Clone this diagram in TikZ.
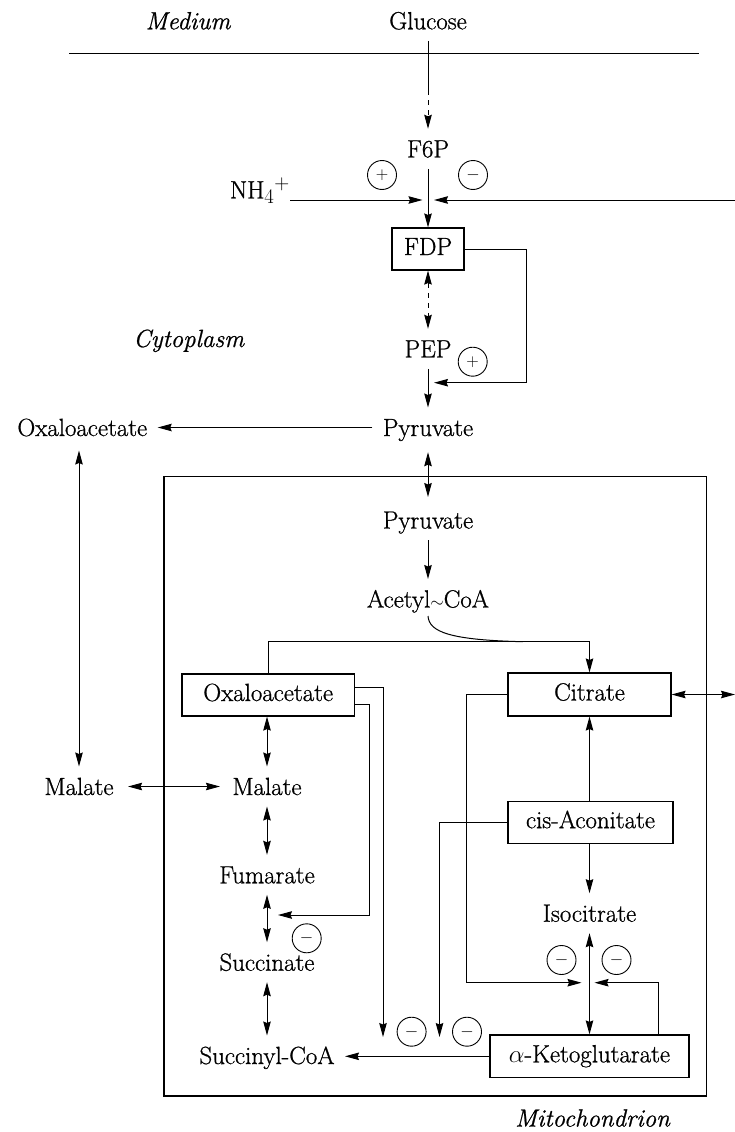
\documentclass[tikz,border=0pt]{standalone}
\usepackage{fontspec}
\setmainfont{Latin Modern Roman}[FakeBold=0.8]
\usetikzlibrary{arrows.meta,calc}
\newcommand{\lbf}{\fontsize{24.88}{30}\selectfont}
\newcommand{\sgf}{\fontsize{17.28}{18}\selectfont}
\begin{document}
\begin{tikzpicture}[x=1pt,y=-1pt,line width=1pt,
  lbl/.style={font=\lbf, inner xsep=10pt, inner ysep=11pt, text height=17pt, text depth=0pt, anchor=base},
  ital/.style={font=\lbf\itshape, inner sep=0pt, anchor=base},
  pbox/.style={draw, font=\lbf, inner sep=0pt, text height=17pt, text depth=5pt, line width=1.1pt},
  sgn/.style={draw, circle, minimum size=29pt, inner sep=0pt, font=\sgf, line width=0.9pt},
  arw/.style={-{Stealth[length=14pt,width=7.5pt,inset=1.5pt]}},
  darw/.style={{Stealth[length=14pt,width=7.5pt,inset=1.5pt]}-{Stealth[length=14pt,width=7.5pt,inset=1.5pt]}},
]
\fill[white] (0,0) rectangle (735,1132);
\useasboundingbox (0,0) rectangle (735,1132);

% membrane
\draw[line width=1.3pt] (69.3,53.3) -- (699,53.3);

% nodes
\node[ital] (medium) at (188,29.3) {Medium};
\node[lbl] (glucose) at (428,29.3) {Glucose};
\node[lbl] (f6p) at (428,157.3) {F6P};
\node[lbl, anchor=base east] (nh4) at (300.4,198.3) {NH$_4$$^+$};
\node[sgn] (p1) at (382,175) {$+$};
\node[sgn] (m1) at (473,175) {$-$};
\node[pbox, minimum width=72pt, minimum height=42pt] (fdp) at (428,249) {FDP};
\node[ital] (cyto) at (188.7,347) {Cytoplasm};
\node[lbl] (pep) at (428,357.3) {PEP};
\node[sgn] (p2) at (472.7,361.7) {$+$};
\node[lbl] (pyr) at (428,436) {Pyruvate};
\node[lbl] (oxo) at (82.3,436) {Oxaloacetate};
\node[lbl] (malo) at (79,795) {Malate};
\node[draw, line width=1.1pt, minimum width=542.5pt, minimum height=619.5pt, inner sep=0pt] (mito) at (435.25,786.25) {};
\node[lbl] (pyri) at (428,528.5) {Pyruvate};
\node[lbl] (acoa) at (428,607.5) {Acetyl{\sgf$\sim$}CoA};
\node[pbox, minimum width=172.4pt, minimum height=42pt] (oxb) at (268.2,695) {Oxaloacetate};
\node[pbox, minimum width=163pt, minimum height=43pt] (cit) at (589.5,694.5) {Citrate};
\node[lbl] (mali) at (267,795) {Malate};
\node[pbox, minimum width=165pt, minimum height=42.3pt] (cis) at (590.5,822.2) {cis-Aconitate};
\node[lbl] (fum) at (267,883.3) {Fumarate};
\node[lbl] (iso) at (589.5,921.7) {Isocitrate};
\node[lbl] (succ) at (267,970.7) {Succinate};
\node[lbl] (scoa) at (267,1064) {Succinyl-CoA};
\node[pbox, minimum width=199pt, minimum height=42.7pt] (akg) at (589.5,1056.3) {$\alpha$-Ketoglutarate};
\node[ital] (mitol) at (592.5,1126.5) {Mitochondrion};
\node[sgn] (m2) at (306.7,938.3) {$-$};
\node[sgn] (m3) at (411.6,1031.7) {$-$};
\node[sgn] (m4) at (467,1031.7) {$-$};
\node[sgn] (m5) at (561.5,960) {$-$};
\node[sgn] (m6) at (616.5,960) {$-$};

% coordinates
\coordinate (gbrk) at ($(glucose.south)!0.56!(f6p.north)$);
\coordinate (j1) at (428,200);
\coordinate (eR) at (735,200);
\coordinate (j2) at (428,382.7);
\coordinate (fbc) at (526,382.7);
\coordinate (cR) at (735,694.5);
\coordinate (acj) at (523,641.7);
\coordinate (j3) at (589.5,982.7);
\coordinate (j4) at (267,915);
\coordinate (i1) at (383,1037);
\coordinate (i2) at (439.5,1037);

% connectors
\draw (glucose.south) -- (gbrk);
\draw[arw, dash pattern=on 5pt off 5pt] (gbrk) -- (f6p.north);
\draw[arw] (f6p.south) -- (fdp.north);
\draw[arw, shorten >=5.5pt] ([shift={(-10pt,-1.7pt)}]nh4.base east) -- (j1);
\draw[arw, shorten >=6pt] (eR) -- (j1);
\draw[darw, dash pattern=on 5pt off 5pt] (fdp.south) -- (pep.north);
\draw[arw] (pep.south) -- (pyr.north);
\draw[arw, shorten >=6pt] (fdp.east) -| (fbc) -- (j2);
\draw[arw] (pyr.west) -- (oxo.east);
\draw[darw, shorten <=3pt] (malo.north |- oxo.south) -- (malo.north);
\draw[darw, shorten <=4pt, shorten >=2pt] (malo.east) -- (mali.west);
\draw[darw, shorten <=4.7pt, shorten >=3pt] (pyr.south) -- (pyri.north);
\draw[arw] (pyri.south) -- (acoa.north);
\draw ([yshift=3pt]acoa.south) .. controls (429,632) and (450,640) .. (acj);
\draw[arw] (oxb.north) |- (acj) -| (cit.north);
\draw[darw] (mali.north |- oxb.south) -- (mali.north);
\draw[darw] (mali.south) -- (fum.north);
\draw[darw] (fum.south) -- (succ.north);
\draw[darw] (succ.south) -- (scoa.north);
\draw[arw] (akg.west) -- (akg.west -| scoa.east);
\draw[arw] (cit.south |- cis.north) -- (cit.south);
\draw[arw] (cit.south |- cis.south) -- (iso.north);
\draw[darw] (iso.south) -- (akg.north);
\draw[darw] (cit.east) -- (cR);
\draw[arw, shorten >=8pt] (cit.west) -- ++(-41pt,0) |- (j3);
\draw[arw, shorten >=5pt] ([xshift=69.2pt]akg.north) |- (j3);
\draw[arw] (cis.west) -| (i2);
\draw[arw] ([yshift=7.3pt]oxb.east) -| (i1);
\draw[arw, shorten >=11pt] ([yshift=-9pt]oxb.east) -- ++(14.6pt,0) |- (j4);
\end{tikzpicture}
\end{document}
